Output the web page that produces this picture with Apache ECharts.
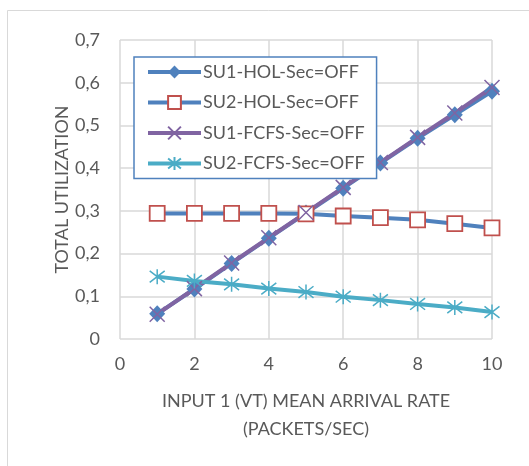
<!DOCTYPE html>
<html>
<head>
<meta charset="utf-8">
<script src="https://cdn.jsdelivr.net/npm/echarts@6/dist/echarts.min.js"></script>
<style>
html,body{margin:0;padding:0;background:#fff;}
#c{width:529px;height:466px;}
</style>
</head>
<body>
<div id="c"></div>
<script>
var xValues = [1, 2, 3, 4, 5, 6, 7, 8, 9, 10];
var su1Hol = [0.059, 0.117, 0.177, 0.236, 0.295, 0.353, 0.412, 0.470, 0.525, 0.580];
var su2Hol = [0.294, 0.294, 0.294, 0.294, 0.293, 0.288, 0.284, 0.279, 0.270, 0.260];
var su1Fcfs = [0.058, 0.118, 0.178, 0.237, 0.296, 0.355, 0.413, 0.472, 0.529, 0.589];
var su2Fcfs = [0.146, 0.136, 0.128, 0.118, 0.110, 0.099, 0.091, 0.082, 0.074, 0.063];
var seriesNames = ['SU1-HOL-Sec=OFF', 'SU2-HOL-Sec=OFF', 'SU1-FCFS-Sec=OFF', 'SU2-FCFS-Sec=OFF'];
var xTitle = 'INPUT 1 (VT) MEAN ARRIVAL RATE\n(PACKETS/SEC)';
var yTitle = 'TOTAL UTILIZATION';

function pairs(vals){ return xValues.map(function(x,i){ return [x, vals[i]]; }); }

var FONT = 'Lato';
var TXT = '#595959';
var chart = echarts.init(document.getElementById('c'), null, {renderer:'canvas'});
chart.setOption({
  animation:false,
  backgroundColor:'#fff',
  graphic:[{type:'rect', shape:{x:7.5,y:10.5,width:700,height:700}, style:{fill:'none', stroke:'#D9D9D9', lineWidth:1}, z:-10}],
  grid:{left:120, right:37, top:40, bottom:127},
  legend:{
    orient:'vertical', left:134, top:57,
    backgroundColor:'#fff', borderColor:'#4F81BD', borderWidth:1.5,
    padding:[6,12,6,12], itemWidth:53, itemHeight:16, itemGap:12.5,
    lineStyle:{width:4},
    textStyle:{color:TXT, fontFamily:FONT, fontSize:18, padding:[0,0,0,-3]},
    data: seriesNames
  },
  xAxis:{
    type:'value', min:0, max:10, interval:2,
    name:xTitle, nameLocation:'middle', nameGap:48, nameMoveOverlap:false,
    nameTextStyle:{color:TXT, fontFamily:FONT, fontSize:18, lineHeight:28},
    axisLine:{show:false}, axisTick:{show:false},
    axisLabel:{color:TXT, fontFamily:FONT, fontSize:18, margin:16},
    splitLine:{show:true, lineStyle:{color:'#D9D9D9', width:1.5}}
  },
  yAxis:{
    type:'value', min:0, max:0.7, interval:0.1,
    name:yTitle, nameLocation:'middle', nameGap:58, nameRotate:90, nameMoveOverlap:false,
    nameTextStyle:{color:TXT, fontFamily:FONT, fontSize:18, verticalAlign:'middle'},
    axisLine:{show:false}, axisTick:{show:false},
    axisLabel:{color:TXT, fontFamily:FONT, fontSize:18, margin:20,
      formatter:function(v){ return (Math.round(v*10)/10).toString().replace('.', ','); }},
    splitLine:{show:true, lineStyle:{color:'#D9D9D9', width:1.5}}
  },
  series:[
    {name:seriesNames[0], type:'line', data:pairs(su1Hol), symbol:'diamond', symbolSize:[16,17],
      lineStyle:{color:'#4F81BD', width:4}, itemStyle:{color:'#4F81BD'}},
    {name:seriesNames[1], type:'line', data:pairs(su2Hol), symbol:'rect', symbolSize:15,
      lineStyle:{color:'#4F81BD', width:4}, itemStyle:{color:'#fff', borderColor:'#C0504D', borderWidth:1.8}},
    {name:seriesNames[2], type:'line', data:pairs(su1Fcfs), symbol:'path://M0,0L10,10M10,0L0,10', symbolSize:15,
      lineStyle:{color:'#8064A2', width:4}, itemStyle:{color:'#8064A2', borderColor:'#8064A2', borderWidth:1.5}},
    {name:seriesNames[3], type:'line', data:pairs(su2Fcfs), symbol:'path://M0,0L10,10M10,0L0,10M5,-1.5L5,11.5', symbolSize:15,
      lineStyle:{color:'#4BACC6', width:4}, itemStyle:{color:'#4BACC6', borderColor:'#4BACC6', borderWidth:1.5}}
  ]
});
</script>
</body>
</html>
